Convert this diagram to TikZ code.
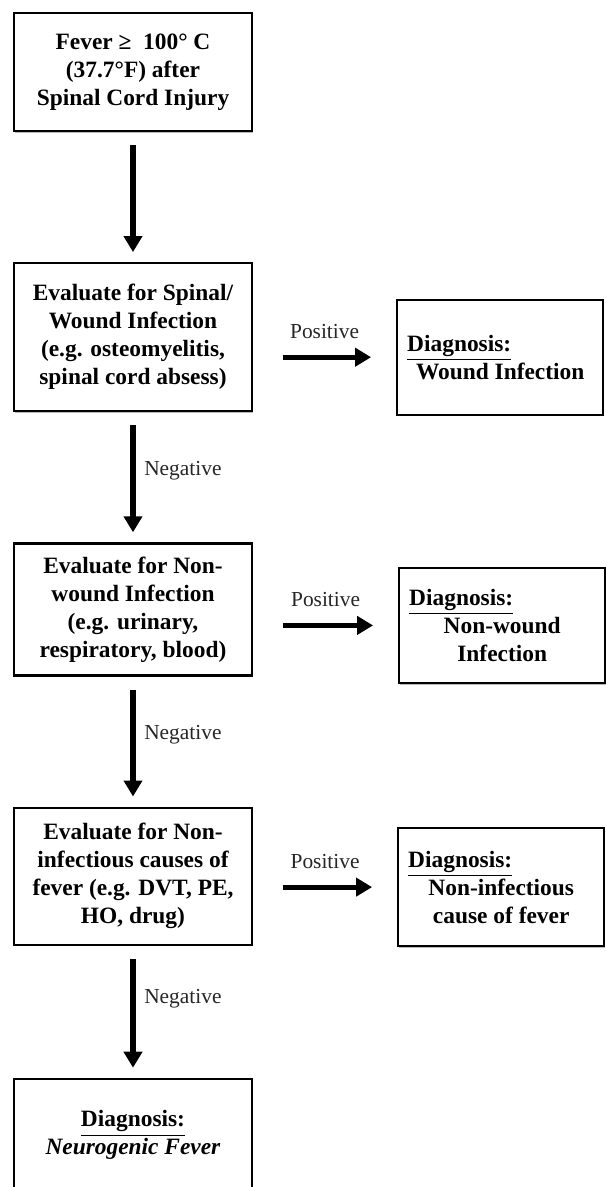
\documentclass[tikz,border=0pt]{standalone}
\usepackage{fontspec}
\setmainfont{Liberation Serif}
\usetikzlibrary{positioning,arrows.meta,shadows}

\newcommand{\dxhead}{\makebox[93pt][l]{\underline{Diagnosis:}}}

\tikzset{
  evalbox/.style={rectangle, draw, line width=1.1pt, fill=white, minimum width=119pt, align=center,
    font=\fontsize{11.7}{14}\selectfont\bfseries,
    drop shadow={shadow xshift=0.6pt, shadow yshift=-0.8pt, fill=black!45, opacity=0.6}},
  diagbox/.style={evalbox, minimum width=103pt, text width=93pt, align=flush center},
  flow/.style={line width=2.6pt, -{Triangle[width=9pt,length=8pt]}},
  answer/.style={font=\fontsize{10.7}{12}\selectfont, text=black!85}
}

\begin{document}
\begin{tikzpicture}[node distance=65pt]
    \useasboundingbox (0,0) rectangle (302.5pt,-593.5pt);

    % main column
    \node (fever) [evalbox, minimum height=59pt] at (66.5pt,-36pt) {Fever ≥\ \ 100° C\\(37.7°F) after\\Spinal Cord Injury};
    \node (wound) [evalbox, below=of fever, minimum height=74pt] {Evaluate for Spinal/\\Wound Infection\\(e.g. osteomyelitis,\\spinal cord absess)};
    \node (nonwound) [evalbox, below=of wound, minimum height=66pt] {Evaluate for Non-\\wound Infection\\(e.g. urinary,\\respiratory, blood)};
    \node (noninf) [evalbox, below=of nonwound, minimum height=68.5pt] {Evaluate for Non-\\infectious causes of\\fever (e.g. DVT, PE,\\HO, drug)};
    \node (neuro) [evalbox, below=66pt of noninf, minimum height=56.5pt] {\underline{Diagnosis:}\\\textit{Neurogenic Fever}};

    % diagnoses on the right
    \node (dxwound) [diagbox, right=71.5pt of wound, yshift=-10pt, minimum height=57.5pt] {\dxhead\\Wound Infection};
    \node (dxnonwound) [diagbox, right=72.5pt of nonwound, yshift=-8pt, minimum height=57.5pt] {\dxhead\\Non-wound\\Infection};
    \node (dxnoninf) [diagbox, right=72pt of noninf, yshift=-5.5pt, minimum height=59pt] {\dxhead\\Non-infectious\\cause of fever};

    \draw [flow, shorten <=6.5pt, shorten >=5pt] (fever) -- (wound);
    \draw [flow, shorten <=6.5pt, shorten >=5pt] (wound) -- node[answer, right=1pt, pos=0.45] {Negative} (nonwound);
    \draw [flow, shorten <=6.5pt, shorten >=5pt] (nonwound) -- node[answer, right=1pt, pos=0.45] {Negative} (noninf);
    \draw [flow, shorten <=6.5pt, shorten >=5pt] (noninf) -- node[answer, right=1pt, pos=0.4] {Negative} (neuro);

    \draw [flow, shorten <=15pt, shorten >=12.5pt] (wound.east |- dxwound.west) -- node[answer, above=4.5pt] {Positive} (dxwound.west);
    \draw [flow, shorten <=15pt, shorten >=12.5pt] (nonwound.east |- dxnonwound.west) -- node[answer, above=4.5pt] {Positive} (dxnonwound.west);
    \draw [flow, shorten <=15pt, shorten >=12.5pt] (noninf.east |- dxnoninf.west) -- node[answer, above=4.5pt] {Positive} (dxnoninf.west);
\end{tikzpicture}
\end{document}
